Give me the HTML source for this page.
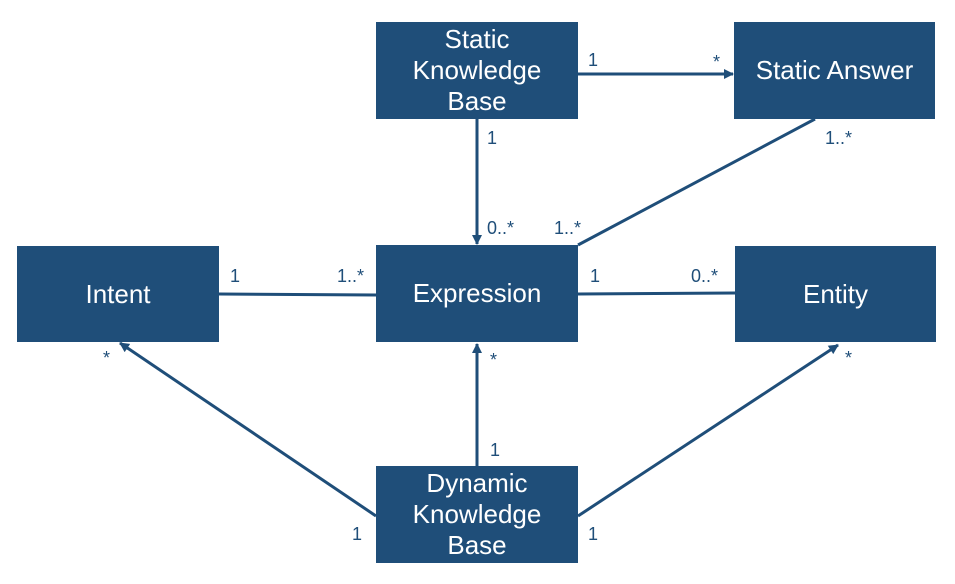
<!DOCTYPE html>
<html><head><style>
body{margin:0;background:#fff;width:955px;height:584px;overflow:hidden;position:relative;font-family:"Liberation Sans",Arial,sans-serif}
.b{position:absolute;background:#1f4e79;color:#fff;font-size:26px;display:flex;align-items:center;justify-content:center;text-align:center;line-height:31px}
.l{position:absolute;color:#1f4e79;font-size:18px;line-height:18px}
svg{position:absolute;left:0;top:0}
</style></head><body>
<svg width="955" height="584">
<defs><marker id="a" markerWidth="10" markerHeight="10" refX="9" refY="5" orient="auto" markerUnits="userSpaceOnUse"><path d="M0,0 L10,5 L0,10 z" fill="#1f4e79"/></marker></defs>
<g stroke="#1f4e79" stroke-width="3" fill="none">
<line x1="578" y1="74" x2="733" y2="74" marker-end="url(#a)"/>
<line x1="477" y1="119" x2="477" y2="244" marker-end="url(#a)"/>
<line x1="578" y1="245" x2="815" y2="119"/>
<line x1="219" y1="294" x2="376" y2="295"/>
<line x1="578" y1="294" x2="735" y2="293"/>
<line x1="477" y1="466" x2="477" y2="344" marker-end="url(#a)"/>
<line x1="376" y1="516" x2="120" y2="343" marker-end="url(#a)"/>
<line x1="578" y1="516" x2="838" y2="345" marker-end="url(#a)"/>
</g></svg>
<div class="b" style="left:376px;top:22px;width:202px;height:97px">Static<br>Knowledge<br>Base</div>
<div class="b" style="left:734px;top:22px;width:201px;height:97px">Static Answer</div>
<div class="b" style="left:17px;top:246px;width:202px;height:96px">Intent</div>
<div class="b" style="left:376px;top:245px;width:202px;height:97px">Expression</div>
<div class="b" style="left:735px;top:246px;width:201px;height:96px">Entity</div>
<div class="b" style="left:376px;top:466px;width:202px;height:97px">Dynamic<br>Knowledge<br>Base</div>
<div class="l" style="left:588px;top:51px">1</div>
<div class="l" style="left:713px;top:53px">*</div>
<div class="l" style="left:487px;top:129px">1</div>
<div class="l" style="left:487px;top:219px">0..*</div>
<div class="l" style="left:554px;top:219px">1..*</div>
<div class="l" style="left:825px;top:129px">1..*</div>
<div class="l" style="left:230px;top:267px">1</div>
<div class="l" style="left:337px;top:267px">1..*</div>
<div class="l" style="left:590px;top:267px">1</div>
<div class="l" style="left:691px;top:267px">0..*</div>
<div class="l" style="left:103px;top:349px">*</div>
<div class="l" style="left:490px;top:351px">*</div>
<div class="l" style="left:845px;top:349px">*</div>
<div class="l" style="left:490px;top:441px">1</div>
<div class="l" style="left:352px;top:525px">1</div>
<div class="l" style="left:588px;top:525px">1</div>
</body></html>
